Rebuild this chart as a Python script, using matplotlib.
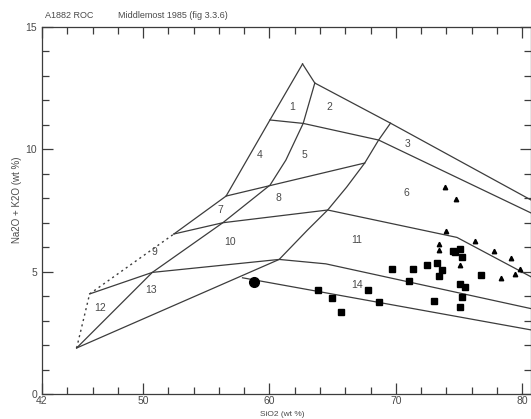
import matplotlib
matplotlib.use("Agg")
import matplotlib.pyplot as plt
from matplotlib.ticker import FixedLocator

plt.rcParams['font.family'] = ['Liberation Sans Narrow', 'Liberation Sans', 'DejaVu Sans']

# field boundaries of the TAS diagram, (SiO2, Na2O+K2O) vertices
top_x = [62.62, 63.59, 69.58, 80.7]
top_y = [13.49, 12.71, 11.07, 7.93]
left_x = [62.62, 60.04, 56.57, 52.44]
left_y = [13.49, 11.20, 8.09, 6.54]
mid_x = [60.04, 62.67, 68.64, 80.7]
mid_y = [11.20, 11.06, 10.38, 7.40]
curve_l_x = [44.74, 50.73, 56.31, 60.05, 61.30, 62.67, 63.59]
curve_l_y = [1.88, 4.97, 7.00, 8.54, 9.56, 11.06, 12.71]
curve_r_x = [44.74, 60.77, 63.01, 64.61, 66.10, 67.54, 68.64, 69.58]
curve_r_y = [1.88, 5.50, 6.70, 7.52, 8.45, 9.44, 10.38, 11.07]
line78_x = [56.57, 67.54]
line78_y = [8.09, 9.44]
line10_x = [52.44, 56.31, 64.61, 74.84, 80.7]
line10_y = [6.54, 7.00, 7.52, 6.40, 4.79]
line13_x = [45.77, 50.73, 60.77, 64.46, 80.7]
line13_y = [4.09, 4.97, 5.50, 5.32, 3.49]
line14_x = [57.87, 80.7]
line14_y = [4.75, 2.62]
dash_x = [44.74, 45.77, 52.44]
dash_y = [1.88, 4.09, 6.54]

field_ids = ['1', '2', '3', '4', '5', '6', '7', '8', '9', '10', '11', '12', '13', '14']
field_x = [61.76, 64.77, 70.90, 59.20, 62.74, 70.84, 56.10, 60.73, 50.92, 56.88, 66.90, 46.63, 50.65, 66.90]
field_y = [11.74, 11.74, 10.20, 9.75, 9.75, 8.23, 7.52, 8.00, 5.79, 6.22, 6.29, 3.53, 4.25, 4.45]

# samples
sq_x = [74.50, 74.71, 75.05, 75.24, 73.27, 72.48, 71.37, 69.66, 73.66, 73.39, 76.76,
        71.03, 75.05, 75.50, 67.82, 75.26, 64.93, 68.71, 73.00, 75.05, 65.64, 63.86]
sq_y = [5.84, 5.82, 5.91, 5.61, 5.37, 5.27, 5.09, 5.09, 5.07, 4.83, 4.88,
        4.62, 4.48, 4.36, 4.25, 3.98, 3.94, 3.75, 3.81, 3.54, 3.36, 4.25]
tri_x = [73.92, 74.76, 74.00, 76.23, 77.81, 79.12, 79.86, 79.44, 78.31, 73.45, 73.45, 75.05]
tri_y = [8.47, 7.96, 6.67, 6.25, 5.86, 5.57, 5.10, 4.90, 4.73, 6.13, 5.88, 5.27]
circ_x = [58.80]
circ_y = [4.59]

lc = '#3c3c3c'
tc = '#4a4a4a'

fig = plt.figure(figsize=(5.31, 4.19), dpi=100)
ax = fig.add_axes([42 / 531, 25 / 419, 489 / 531, 367 / 419])

for xs, ys in [(top_x, top_y), (left_x, left_y), (mid_x, mid_y), (curve_l_x, curve_l_y),
               (curve_r_x, curve_r_y), (line78_x, line78_y), (line10_x, line10_y),
               (line13_x, line13_y), (line14_x, line14_y)]:
    ax.plot(xs, ys, color=lc, lw=0.9)
ax.plot(dash_x, dash_y, color=lc, lw=1.0, linestyle=(0, (1.5, 2.5)))

for t, x, y in zip(field_ids, field_x, field_y):
    ax.text(x, y, t, ha='center', va='center', fontsize=7.5, color=tc)

ax.plot(sq_x, sq_y, 's', color='black', ms=4.8, mec='black')
ax.plot(tri_x, tri_y, '^', color='black', ms=3.2)
ax.plot(circ_x, circ_y, 'o', color='black', ms=7)

ax.set_xlim(42, 80.7)
ax.set_ylim(0, 15)
ax.xaxis.set_major_locator(FixedLocator([42, 50, 60, 70, 80]))
ax.xaxis.set_minor_locator(FixedLocator([44, 46, 48, 52, 54, 56, 58, 62, 64, 66, 68, 72, 74, 76, 78]))
ax.yaxis.set_major_locator(FixedLocator([0, 5, 10, 15]))
ax.yaxis.set_minor_locator(FixedLocator([1, 2, 3, 4, 6, 7, 8, 9, 11, 12, 13, 14]))
ax.tick_params(which='both', direction='in', top=True, right=True, colors=lc,
               labelcolor=tc, labelsize=7.5, width=0.9)
ax.tick_params(which='major', length=8)
ax.tick_params(which='minor', length=5)
ax.tick_params(axis='x', which='major', pad=1.5)
for s in ax.spines.values():
    s.set_color(lc)
    s.set_linewidth(0.9)

fig.text(45 / 531, 1 - 15 / 419, 'A1882 ROC', fontsize=6.5, color=tc, va='center')
fig.text(118 / 531, 1 - 15 / 419, 'Middlemost 1985 (fig 3.3.6)', fontsize=6.5, color=tc, va='center')
fig.text(17 / 531, 1 - 200 / 419, 'Na2O + K2O (wt %)', rotation=90, fontsize=7,
         color=tc, ha='center', va='center')
fig.text(282 / 531, 1 / 419, 'SiO2 (wt %)', fontsize=6, color=tc, ha='center', va='bottom')

fig.savefig('out.png', dpi=100)
